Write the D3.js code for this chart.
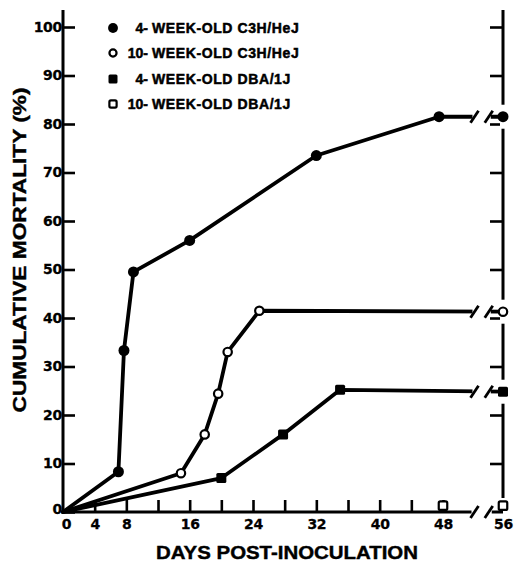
<!DOCTYPE html>
<html>
<head>
<meta charset="utf-8">
<script src="https://cdn.jsdelivr.net/npm/d3@7"></script>
<style>
  html, body { margin: 0; padding: 0; background: #fff; }
  svg { display: block; }
</style>
</head>
<body>
<svg id="chart" width="517" height="565"></svg>
<script>
// ---- data ----
const c3h4Days   = [0, 7, 7.7, 8.9, 16, 32, 47.5, 56];
const c3h4Vals   = [0, 8.3, 33.3, 49.5, 56, 73.5, 81.5, 81.5];
const c3h10Days  = [0, 14.9, 17.9, 19.6, 20.8, 24.8, 56];
const c3h10Vals  = [0, 8, 16, 24.4, 33, 41.5, 41.3];
const dba4Days   = [0, 20, 27.8, 35, 56];
const dba4Vals   = [0, 7, 16, 25.2, 24.8];
const dba10Days  = [48, 56];
const dba10Vals  = [1.3, 1.3];

const yTicks = [0, 10, 20, 30, 40, 50, 60, 70, 80, 90, 100];
const xTickMarks = [4, 8, 12, 16, 20, 24, 28, 32, 36, 40, 44, 48];
const xTickLabels = [0, 4, 8, 16, 24, 32, 40, 48, 56];
const breakDays = [52.2, 54.1];
const legendNums = ["4-", "10-", "4-", "10-"];
const legendTexts = ["WEEK-OLD C3H/HeJ", "WEEK-OLD C3H/HeJ", "WEEK-OLD DBA/1J", "WEEK-OLD DBA/1J"];
const legendMarkers = ["filledCircle", "openCircle", "filledSquare", "openSquare"];

// ---- scales ----
const x = d3.scaleLinear().domain([0, 48, 56]).range([63, 443, 503]);
const y = d3.scaleLinear().domain([0, 100]).range([512, 27]);

const svg = d3.select("#chart");
svg.append("rect").attr("width", 517).attr("height", 565).attr("fill", "#fff");

const INK = "#000";
const numFont = "'DejaVu Sans', sans-serif";
const txtFont = "'Liberation Sans', Arial, sans-serif";

// ---- left axis ----
const gl = svg.append("g").attr("transform", `translate(${x(0)},0)`)
  .call(d3.axisLeft(y).tickValues(yTicks).tickSizeInner(-12).tickSizeOuter(0).tickPadding(1));
gl.select(".domain").remove();
gl.selectAll(".tick line").attr("stroke", INK).attr("stroke-width", 2.6);
gl.selectAll(".tick text").attr("font-family", numFont).attr("font-weight", "bold")
  .attr("font-size", 14).attr("fill", INK).attr("stroke", INK).attr("stroke-width", 0.3)
  .attr("letter-spacing", -0.3)
  .attr("dy", d => d === 0 ? "0.12em" : "0.32em");
gl.append("line").attr("x1", 0).attr("x2", 0).attr("y1", y(0) + 1).attr("y2", y(103.5))
  .attr("stroke", INK).attr("stroke-width", 3);

// ---- right axis ----
const gr = svg.append("g").attr("transform", `translate(${x(56)},0)`)
  .call(d3.axisRight(y).tickValues(yTicks.filter(v => v > 0)).tickSizeInner(-13).tickSizeOuter(0).tickFormat(""));
gr.select(".domain").remove();
gr.selectAll(".tick line").attr("stroke", INK).attr("stroke-width", 2.6);
gr.append("line").attr("x1", 0).attr("x2", 0).attr("y1", y(0) - 14).attr("y2", y(103.5))
  .attr("stroke", INK).attr("stroke-width", 3);

// ---- bottom axis ----
const gb = svg.append("g").attr("transform", `translate(0,${y(0)})`)
  .call(d3.axisBottom(x).tickValues(xTickMarks).tickSizeInner(-12).tickSizeOuter(0).tickFormat(""));
gb.select(".domain").remove();
gb.selectAll(".tick line").attr("stroke", INK).attr("stroke-width", 2.6);
const gbl = svg.append("g").attr("transform", `translate(0,${y(0)})`)
  .call(d3.axisBottom(x).tickValues(xTickLabels).tickSize(0).tickPadding(7));
gbl.select(".domain").remove();
gbl.selectAll(".tick text").attr("font-family", numFont).attr("font-weight", "bold")
  .attr("font-size", 14).attr("fill", INK).attr("stroke", INK).attr("stroke-width", 0.3)
  .attr("letter-spacing", -0.3)
  .attr("dx", d => d === 0 ? 3 : 0);
// axis baseline with break
svg.append("line").attr("x1", x(0) - 1.5).attr("x2", x(breakDays[0]) - 3).attr("y1", y(0)).attr("y2", y(0))
  .attr("stroke", INK).attr("stroke-width", 3);
svg.append("line").attr("x1", x(breakDays[1]) + 3).attr("x2", x(56)).attr("y1", y(0)).attr("y2", y(0))
  .attr("stroke", INK).attr("stroke-width", 3);

// ---- titles ----
svg.append("text").attr("x", 287).attr("y", 559).attr("text-anchor", "middle")
  .attr("font-family", txtFont).attr("font-weight", "bold").attr("font-size", 18)
  .attr("stroke", INK).attr("stroke-width", 0.4)
  .attr("textLength", 262).attr("lengthAdjust", "spacingAndGlyphs")
  .attr("fill", INK).text("DAYS POST-INOCULATION");
svg.append("text").attr("transform", "translate(26,250) rotate(-90)").attr("text-anchor", "middle")
  .attr("font-family", txtFont).attr("font-weight", "bold").attr("font-size", 19)
  .attr("stroke", INK).attr("stroke-width", 0.4)
  .attr("textLength", 325).attr("lengthAdjust", "spacingAndGlyphs")
  .attr("fill", INK).text("CUMULATIVE MORTALITY (%)");

// ---- series ----
const series = [
  { days: c3h4Days, vals: c3h4Vals, marker: "filledCircle", line: true },
  { days: c3h10Days, vals: c3h10Vals, marker: "openCircle", line: true },
  { days: dba4Days, vals: dba4Vals, marker: "filledSquare", line: true },
  { days: dba10Days, vals: dba10Vals, marker: "openSquare", line: false }
];
const lineGen = d3.line().x(d => x(d[0])).y(d => y(d[1]));

// gaps in right axis around end markers
series.filter(s => s.line).forEach(s => {
  const v = s.vals[s.vals.length - 1];
  svg.append("rect").attr("x", x(56) - 3).attr("y", y(v) - 12).attr("width", 6).attr("height", 24).attr("fill", "#fff");
});

series.forEach(s => {
  const pts = s.days.map((d, i) => [d, s.vals[i]]);
  if (s.line) {
    svg.append("path").attr("d", lineGen(pts)).attr("fill", "none")
      .attr("stroke", INK).attr("stroke-width", 3.8).attr("stroke-linejoin", "round").attr("stroke-linecap", "round");
    const v = s.vals[s.vals.length - 1];
    svg.append("rect").attr("x", x(breakDays[0]) - 2).attr("y", y(v) - 4)
      .attr("width", x(breakDays[1]) - x(breakDays[0]) + 4).attr("height", 8).attr("fill", "#fff");
  }
});

// break slashes
function slashes(v) {
  breakDays.forEach(bd => {
    svg.append("line").attr("x1", x(bd) - 4).attr("y1", y(v) + 6).attr("x2", x(bd) + 4).attr("y2", y(v) - 6)
      .attr("stroke", INK).attr("stroke-width", 2.8);
  });
}
series.filter(s => s.line).forEach(s => slashes(s.vals[s.vals.length - 1]));
slashes(0);

function drawMarker(g, type, cx, cy, size) {
  if (type === "filledCircle") {
    g.append("circle").attr("cx", cx).attr("cy", cy).attr("r", size * 0.55).attr("fill", INK);
  } else if (type === "openCircle") {
    g.append("circle").attr("cx", cx).attr("cy", cy).attr("r", size * 0.42).attr("fill", "#fff")
      .attr("stroke", INK).attr("stroke-width", 2.2);
  } else if (type === "filledSquare") {
    g.append("rect").attr("x", cx - size / 2).attr("y", cy - size / 2).attr("width", size).attr("height", size)
      .attr("rx", 1.5).attr("fill", INK);
  } else {
    const s2 = size * 0.85;
    g.append("rect").attr("x", cx - s2 / 2).attr("y", cy - s2 / 2).attr("width", s2).attr("height", s2)
      .attr("rx", 1.5).attr("fill", "#fff").attr("stroke", INK).attr("stroke-width", 2.2);
  }
}

series.forEach(s => {
  s.days.forEach((d, i) => {
    if (d === 0) return;
    drawMarker(svg, s.marker, x(d), y(s.vals[i]), 10);
  });
});

// ---- legend ----
const legendY = [28, 53, 79, 104];
legendMarkers.forEach((m, i) => {
  drawMarker(svg, m, 113, legendY[i], m === "filledCircle" ? 9 : (m === "filledSquare" ? 9 : 8.5));
  svg.append("text").attr("x", 148).attr("y", legendY[i] + 5).attr("text-anchor", "end")
    .attr("font-family", txtFont).attr("font-weight", "bold").attr("font-size", 14).attr("fill", INK)
    .attr("stroke", INK).attr("stroke-width", 0.5)
    .text(legendNums[i]);
  svg.append("text").attr("x", 152).attr("y", legendY[i] + 5)
    .attr("font-family", txtFont).attr("font-weight", "bold").attr("font-size", 14).attr("fill", INK)
    .attr("stroke", INK).attr("stroke-width", 0.5)
    .attr("letter-spacing", 0.6)
    .text(legendTexts[i]);
});
</script>
</body>
</html>
